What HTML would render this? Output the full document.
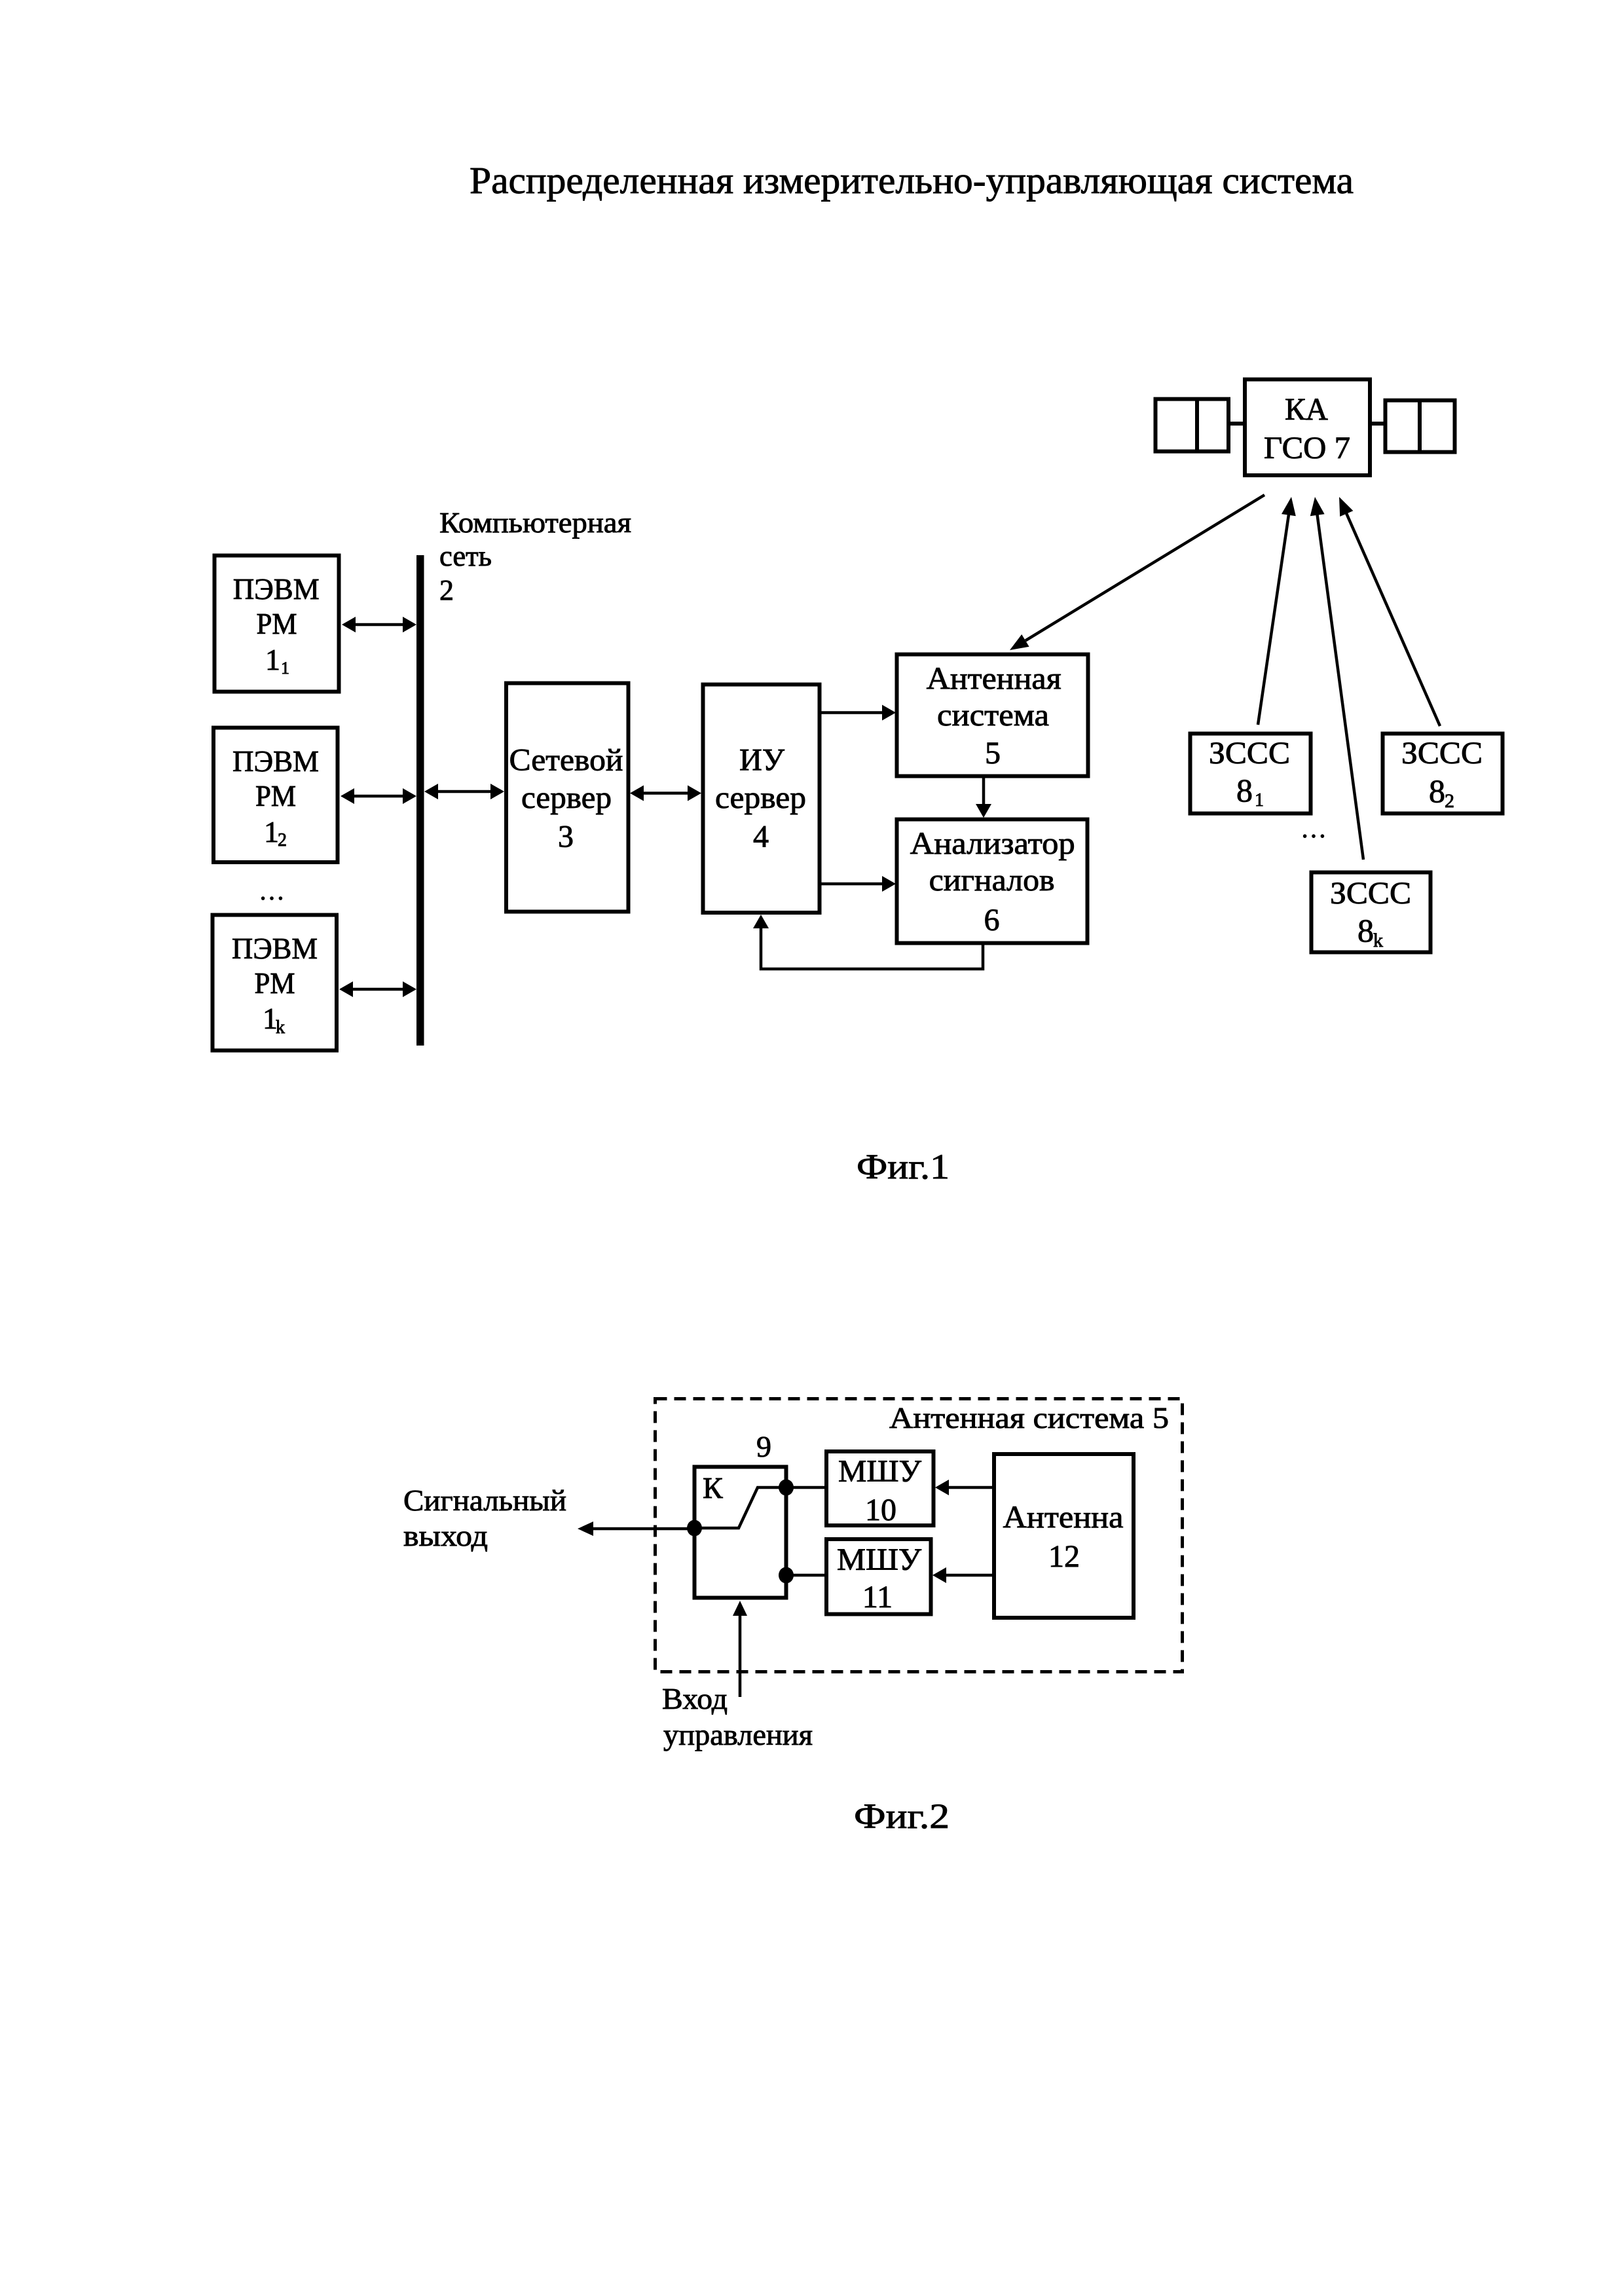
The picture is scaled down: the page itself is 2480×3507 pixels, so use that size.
<!DOCTYPE html>
<html><head><meta charset="utf-8"><style>
html,body{margin:0;padding:0;background:#fff;}
svg{display:block;}
text{font-family:"Liberation Serif","Noto Serif CJK SC",serif;fill:#000;stroke:#000;stroke-width:0.9px;}
</style></head><body>
<svg width="2480" height="3507" viewBox="0 0 2480 3507" xmlns="http://www.w3.org/2000/svg">
<rect x="0" y="0" width="2480" height="3507" fill="#fff"/>

<!-- Title -->
<text x="717" y="295" font-size="58" textLength="1350" lengthAdjust="spacingAndGlyphs">Распределенная измерительно-управляющая система</text>

<!-- ============ FIG 1 ============ -->
<g fill="none" stroke="#000" stroke-width="6">
  <rect x="327.5" y="848.5" width="190" height="208"/>
  <rect x="326" y="1111.5" width="189.5" height="205.5"/>
  <rect x="324.5" y="1397.5" width="189.5" height="207"/>
  <rect x="773" y="1043.5" width="186.5" height="349"/>
  <rect x="1073.5" y="1045.5" width="178" height="348.5"/>
  <rect x="1369.5" y="999.5" width="292" height="186"/>
  <rect x="1369.5" y="1251.5" width="291" height="189"/>
  <rect x="1901" y="579.5" width="191" height="146.5"/>
  <rect x="1764.5" y="609.5" width="111.5" height="80"/>
  <rect x="2115.5" y="611.5" width="106" height="79"/>
  <rect x="1817.5" y="1120.5" width="184" height="122"/>
  <rect x="2111.5" y="1120.5" width="183" height="122"/>
  <rect x="2002.5" y="1332.5" width="182" height="122"/>
</g>
<!-- satellite panel dividers & connectors -->
<g stroke="#000" stroke-width="6" fill="none">
  <line x1="1828" y1="609" x2="1828" y2="690"/>
  <line x1="2168" y1="611" x2="2168" y2="691"/>
  <line x1="1876" y1="647" x2="1901" y2="647"/>
  <line x1="2092" y1="647" x2="2116" y2="647"/>
</g>
<!-- bus -->
<rect x="636" y="848" width="11.5" height="749" fill="#000"/>

<!-- connectors fig1 -->
<g stroke="#000" stroke-width="4.5" fill="none">
  <line x1="540" y1="954" x2="616" y2="954"/>
  <line x1="538" y1="1216" x2="616" y2="1216"/>
  <line x1="536" y1="1511" x2="616" y2="1511"/>
  <line x1="667" y1="1209" x2="750" y2="1209"/>
  <line x1="982" y1="1211.5" x2="1051" y2="1211.5"/>
  <line x1="1254" y1="1088.5" x2="1350" y2="1088.5"/>
  <line x1="1254" y1="1350" x2="1350" y2="1350"/>
  <line x1="1502" y1="1188" x2="1502" y2="1231"/>
  <polyline points="1501,1443 1501,1480 1162,1480 1162,1415"/>
  <line x1="1931" y1="756" x2="1566" y2="978.4"/>
  <line x1="1921" y1="1107" x2="1968" y2="786"/>
  <line x1="2082" y1="1313" x2="2011.5" y2="786"/>
  <line x1="2199" y1="1109" x2="2056" y2="784"/>
</g>
<g fill="#000" stroke="none">
  <polygon points="522,954 543,942 543,966"/>
  <polygon points="636,954 615,942 615,966"/>
  <polygon points="520,1216 541,1204 541,1228"/>
  <polygon points="636,1216 615,1204 615,1228"/>
  <polygon points="518,1511 539,1499 539,1523"/>
  <polygon points="636,1511 615,1499 615,1523"/>
  <polygon points="648,1209 669,1197 669,1221"/>
  <polygon points="770,1209 749,1197 749,1221"/>
  <polygon points="962,1211.5 983,1199.5 983,1223.5"/>
  <polygon points="1071,1211.5 1050,1199.5 1050,1223.5"/>
  <polygon points="1368,1088.5 1347,1076.5 1347,1100.5"/>
  <polygon points="1368,1350 1347,1338 1347,1362"/>
  <polygon points="1502,1249 1490,1228 1514,1228"/>
  <polygon points="1162,1397 1150,1418 1174,1418"/>
  <polygon points="1542,993 1571.6,987.8 1560.2,969"/>
  <polygon points="1972,759 1978.8,788.3 1957,785.1"/>
  <polygon points="2008,759 2022.6,785.3 2000.8,788.2"/>
  <polygon points="2045,759 2066.4,780.2 2046.2,789"/>
</g>

<!-- Fig1 texts -->
<g font-size="46" text-anchor="middle">
  <text x="421.7" y="915" textLength="132" lengthAdjust="spacingAndGlyphs">ПЭВМ</text>
  <text x="422.5" y="968" textLength="62" lengthAdjust="spacingAndGlyphs">РМ</text>
  <text x="421" y="1178" textLength="132" lengthAdjust="spacingAndGlyphs">ПЭВМ</text>
  <text x="421" y="1231" textLength="62" lengthAdjust="spacingAndGlyphs">РМ</text>
  <text x="419.5" y="1464" textLength="131" lengthAdjust="spacingAndGlyphs">ПЭВМ</text>
  <text x="419.5" y="1517" textLength="62" lengthAdjust="spacingAndGlyphs">РМ</text>
</g>
<g font-size="46">
  <text x="405" y="1023">1</text>
  <text x="429" y="1029" font-size="26">1</text>
  <text x="403" y="1286">1</text>
  <text x="424" y="1292" font-size="28">2</text>
  <text x="401" y="1571">1</text>
  <text x="421" y="1578" font-size="28">k</text>
  <text x="395" y="1374" font-size="40">…</text>
</g>
<g font-size="44">
  <text x="671" y="813" textLength="293" lengthAdjust="spacingAndGlyphs">Компьютерная</text>
  <text x="671" y="864" textLength="80" lengthAdjust="spacingAndGlyphs">сеть</text>
  <text x="671" y="916">2</text>
</g>
<g font-size="48" text-anchor="middle">
  <text x="864.5" y="1176.5" textLength="174" lengthAdjust="spacingAndGlyphs">Сетевой</text>
  <text x="865" y="1234" textLength="138" lengthAdjust="spacingAndGlyphs">сервер</text>
  <text x="864" y="1293.5">3</text>
  <text x="1163.5" y="1176.5" textLength="69" lengthAdjust="spacingAndGlyphs">ИУ</text>
  <text x="1161.5" y="1234" textLength="139" lengthAdjust="spacingAndGlyphs">сервер</text>
  <text x="1162" y="1293.5">4</text>
  <text x="1517.7" y="1052" textLength="206" lengthAdjust="spacingAndGlyphs">Антенная</text>
  <text x="1516.5" y="1108" textLength="171" lengthAdjust="spacingAndGlyphs">система</text>
  <text x="1516" y="1166">5</text>
  <text x="1515.7" y="1304" textLength="252" lengthAdjust="spacingAndGlyphs">Анализатор</text>
  <text x="1514.6" y="1360" textLength="192" lengthAdjust="spacingAndGlyphs">сигналов</text>
  <text x="1514.5" y="1421">6</text>
  <text x="1995" y="641" textLength="66" lengthAdjust="spacingAndGlyphs">КА</text>
  <text x="1996" y="700" textLength="132" lengthAdjust="spacingAndGlyphs">ГСО 7</text>
  <text x="1908" y="1166" textLength="124" lengthAdjust="spacingAndGlyphs">ЗССС</text>
  <text x="2202" y="1166" textLength="124" lengthAdjust="spacingAndGlyphs">ЗССС</text>
  <text x="2093" y="1380" textLength="124" lengthAdjust="spacingAndGlyphs">ЗССС</text>
</g>
<g font-size="50">
  <text x="1888" y="1224">8</text>
  <text x="1916" y="1231" font-size="28">1</text>
  <text x="2182" y="1225">8</text>
  <text x="2206" y="1233" font-size="30">2</text>
  <text x="2073" y="1438">8</text>
  <text x="2097" y="1446" font-size="30">k</text>
  <text x="1986" y="1279" font-size="40">…</text>
</g>

<!-- Fig labels -->
<text x="1308" y="1800" font-size="54" textLength="142" lengthAdjust="spacingAndGlyphs">Фиг.1</text>
<text x="1304" y="2792" font-size="54" textLength="146" lengthAdjust="spacingAndGlyphs">Фиг.2</text>

<!-- ============ FIG 2 ============ -->
<rect x="1000.5" y="2136.5" width="805" height="417" fill="none" stroke="#000" stroke-width="5" stroke-dasharray="18 11"/>
<g fill="none" stroke="#000" stroke-width="6">
  <rect x="1060.5" y="2240.5" width="140" height="200"/>
  <rect x="1262" y="2217" width="163.5" height="113"/>
  <rect x="1262" y="2351" width="159.5" height="114.5"/>
  <rect x="1518" y="2221" width="213" height="250"/>
</g>
<g fill="none" stroke="#000" stroke-width="4.5">
  <polyline points="1060,2334 1128,2334 1157,2272 1200,2272"/>
  <line x1="1200" y1="2272" x2="1259" y2="2272"/>
  <line x1="1200" y1="2406" x2="1259" y2="2406"/>
  <line x1="1515" y1="2272" x2="1446" y2="2272"/>
  <line x1="1515" y1="2406" x2="1442" y2="2406"/>
  <line x1="1130" y1="2592" x2="1130" y2="2465"/>
  <line x1="1060" y1="2335" x2="902" y2="2335"/>
</g>
<g fill="#000">
  <ellipse cx="1060.5" cy="2334" rx="11.5" ry="12.5"/>
  <ellipse cx="1200.5" cy="2272" rx="11.5" ry="12.5"/>
  <ellipse cx="1200.5" cy="2406" rx="11.5" ry="12.5"/>
  <polygon points="1428,2272 1449,2260 1449,2284"/>
  <polygon points="1424,2406 1445,2394 1445,2418"/>
  <polygon points="1130,2445 1119,2468 1141,2468"/>
  <polygon points="882,2335 906,2324 906,2346"/>
</g>
<g font-size="46">
  <text x="1358" y="2181" textLength="427" lengthAdjust="spacingAndGlyphs">Антенная система 5</text>
  <text x="1155" y="2225">9</text>
  <text x="1073" y="2288">К</text>
  <text x="616" y="2307" textLength="249" lengthAdjust="spacingAndGlyphs">Сигнальный</text>
  <text x="616" y="2361" textLength="129" lengthAdjust="spacingAndGlyphs">выход</text>
  <text x="1011" y="2610" textLength="100" lengthAdjust="spacingAndGlyphs">Вход</text>
  <text x="1013" y="2665" textLength="228" lengthAdjust="spacingAndGlyphs">управления</text>
</g>
<g font-size="48" text-anchor="middle">
  <text x="1343.5" y="2263" textLength="127" lengthAdjust="spacingAndGlyphs">МШУ</text>
  <text x="1345" y="2322">10</text>
  <text x="1342.5" y="2398" textLength="129" lengthAdjust="spacingAndGlyphs">МШУ</text>
  <text x="1340" y="2455">11</text>
  <text x="1623.5" y="2333" textLength="184" lengthAdjust="spacingAndGlyphs">Антенна</text>
  <text x="1625" y="2393">12</text>
</g>
</svg>
</body></html>
